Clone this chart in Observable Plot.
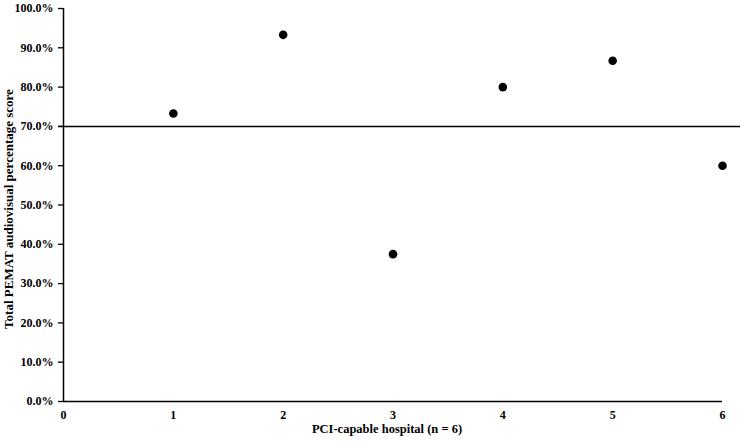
<!DOCTYPE html>
<html>
<head>
<meta charset="utf-8">
<script src="https://cdn.jsdelivr.net/npm/d3@7"></script>
<script src="https://cdn.jsdelivr.net/npm/@observablehq/plot@0.6"></script>
<style>
  html, body { margin: 0; padding: 0; background: #fff; }
  svg text { font-family: 'Liberation Serif', 'Times New Roman', serif; font-weight: bold; fill: #000; }
</style>
</head>
<body>
<div id="chart"></div>
<script>
const hospitals = [1, 2, 3, 4, 5, 6];
const scores = [0.733, 0.933, 0.375, 0.80, 0.867, 0.60];
const xTicks = [0, 1, 2, 3, 4, 5, 6];
const yTicks = [0, 0.1, 0.2, 0.3, 0.4, 0.5, 0.6, 0.7, 0.8, 0.9, 1.0];
const threshold = 0.70;
const xLabel = "PCI-capable hospital (n = 6)";
const yLabel = "Total PEMAT audiovisual percentage score";

const data = hospitals.map((h, i) => ({hospital: h, score: scores[i]}));

const chart = Plot.plot({
  width: 740,
  height: 441,
  marginTop: 8,
  marginLeft: 63,
  marginRight: 18,
  marginBottom: 40,
  style: {fontFamily: "'Liberation Serif', 'Times New Roman', serif", fontWeight: "bold", fontSize: "12px", color: "#000", background: "#fff"},
  x: {domain: [0, 6], ticks: xTicks},
  y: {domain: [0, 1], ticks: yTicks},
  marks: [
    Plot.axisY({ticks: yTicks, tickFormat: d3.format(".1%"), tickSize: 5, tickPadding: 5, strokeWidth: 1.3, label: null, fontSize: 12}),
    Plot.axisX({ticks: xTicks, tickFormat: d3.format("d"), tickSize: 0, tickPadding: 9, label: null, fontSize: 12}),
    Plot.text([yLabel], {frameAnchor: "left", textAnchor: "middle", dx: -55, dy: 4, rotate: -90, fontSize: 13, fontWeight: "bold"}),
    Plot.text([xLabel], {frameAnchor: "bottom", dx: -6, dy: 31, fontSize: 12.5, fontWeight: "bold"}),
    Plot.ruleX([0], {stroke: "#000", strokeWidth: 1.5}),
    Plot.ruleY([0], {stroke: "#000", strokeWidth: 1.5}),
    Plot.ruleY([threshold], {x1: -0.045, x2: 6.17, stroke: "#000", strokeWidth: 1.5, clip: false}),
    Plot.dot(data, {x: "hospital", y: "score", r: 4.3, fill: "#000", stroke: "none"})
  ]
});
document.getElementById("chart").appendChild(chart);
</script>
</body>
</html>
